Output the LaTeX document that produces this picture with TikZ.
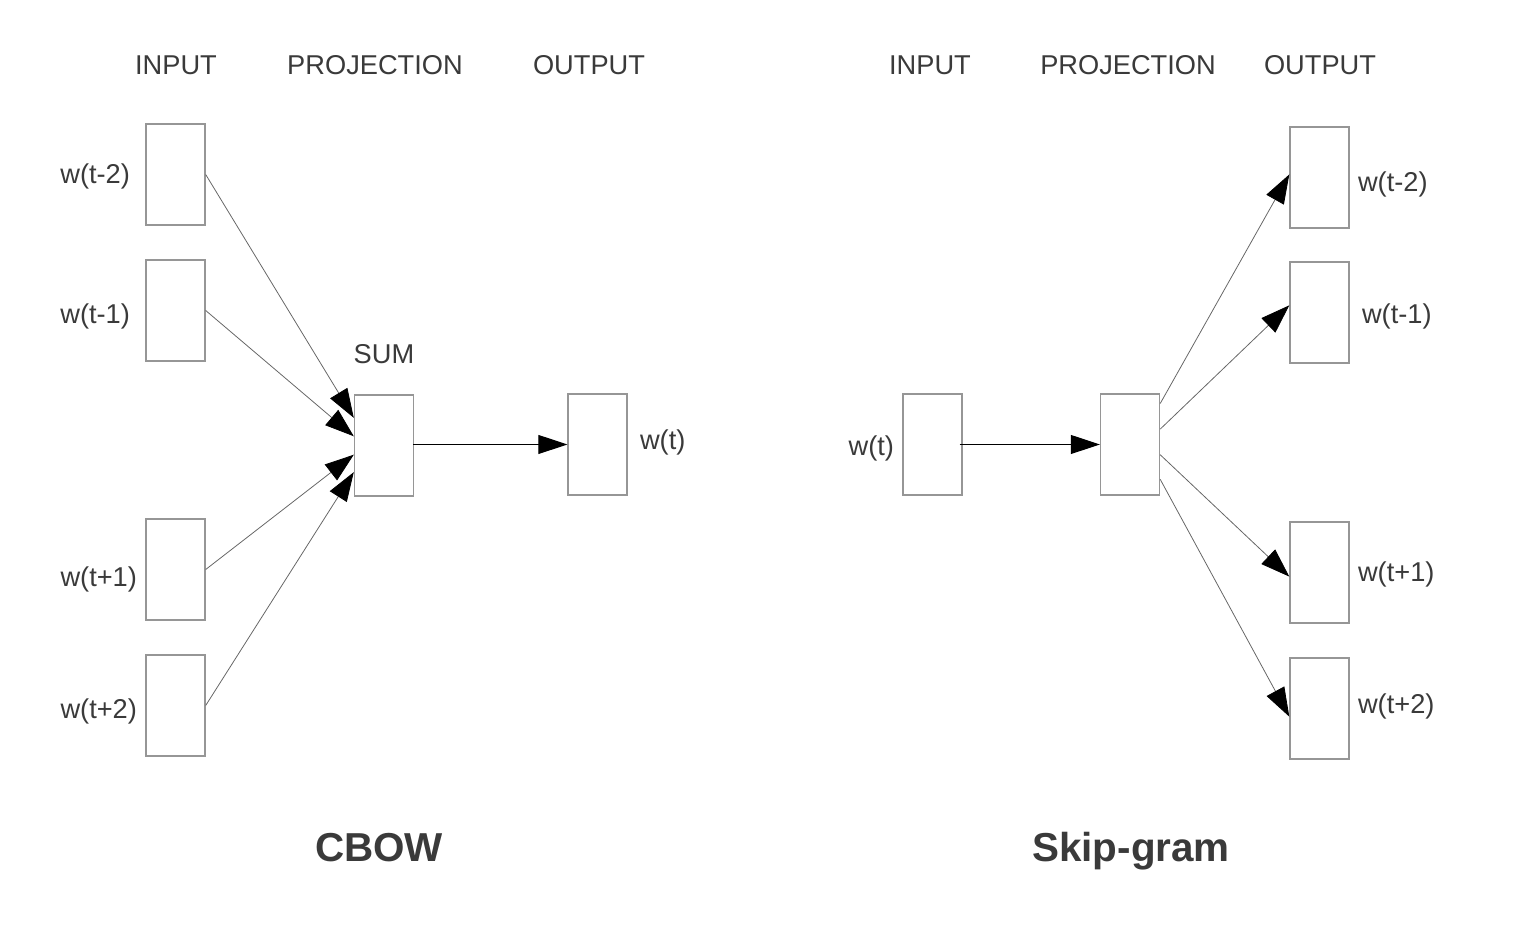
\documentclass[tikz,border=0pt]{standalone}
\usepackage{fontspec}
\setmainfont{Liberation Sans}
\usepackage{tikz}
\usetikzlibrary{arrows.meta}
\usetikzlibrary{positioning}
\usetikzlibrary{calc}
\definecolor{txtgray}{RGB}{58,58,58}
\definecolor{boxgray}{RGB}{150,150,150}
\tikzset{
  wbox/.style={draw=boxgray, line width=0.8pt, minimum width=1.18cm, minimum height=2.02cm, inner sep=0pt},
  lbl/.style={text=txtgray, inner sep=0pt, font=\fontsize{15.5}{18}\selectfont},
  title/.style={text=txtgray, inner sep=0pt, font=\fontsize{23}{27}\selectfont\bfseries},
  thin arrow/.style={draw=black!60, line width=0.45pt, -{Triangle[length=0.58cm,width=0.4cm,color=black]}},
  flat arrow/.style={draw=black, line width=0.6pt, -{Triangle[length=0.58cm,width=0.38cm]}}
}

\begin{document}
\begin{tikzpicture}[x=0.02cm, y=-0.02cm]
\useasboundingbox (0,0) rectangle (1516,932);

% CBOW
\node[lbl] (cin) at (176,65) {INPUT};
\node[lbl] (cproj) at (375,65) {PROJECTION};
\node[lbl] (cout) at (589,65) {OUTPUT};

\node[wbox] (cw1) at (175.5,174.5) {};
\node[wbox] (cw2) at (175.5,310.5) {};
\node[wbox] (cw3) at (175.5,569.5) {};
\node[wbox] (cw4) at (175.5,705.5) {};
\node[lbl, left=0.3cm of cw1, yshift=-0.04cm] (cl1) {w(t-2)};
\node[lbl, left=0.3cm of cw2, yshift=-0.12cm] (cl2) {w(t-1)};
\node[lbl, left=0.16cm of cw3, yshift=-0.2cm] (cl3) {w(t+1)};
\node[lbl, left=0.16cm of cw4, yshift=-0.12cm] (cl4) {w(t+2)};

\node[wbox] (sum) at (384,445.5) {};
\node[lbl] (sumlbl) at (384,354) {SUM};
\node[wbox] (cwt) at (597.5,444.5) {};
\node[lbl, right=0.24cm of cwt, yshift=0.04cm] (cwtlbl) {w(t)};

\draw[thin arrow] (cw1.east) -- ($(sum.north west)!0.23!(sum.south west)$);
\draw[thin arrow] (cw2.east) -- ($(sum.north west)!0.41!(sum.south west)$);
\draw[thin arrow] (cw3.east) -- ($(sum.north west)!0.59!(sum.south west)$);
\draw[thin arrow] (cw4.east) -- ($(sum.north west)!0.76!(sum.south west)$);
\draw[flat arrow] ([xshift=-0.02cm]cwt.west -| sum.east) -- (cwt.west);

\node[title] (cbow) at (379,848) {CBOW};

% Skip-gram
\node[lbl] (sin) at (930,65) {INPUT};
\node[lbl] (sproj) at (1128,65) {PROJECTION};
\node[lbl] (sout) at (1320,65) {OUTPUT};

\node[wbox] (swt) at (932.5,444.5) {};
\node[lbl, left=0.16cm of swt, yshift=-0.08cm] (swtlbl) {w(t)};
\node[wbox] (proj) at (1130,444.5) {};

\node[wbox] (sw1) at (1319.5,177.5) {};
\node[wbox] (sw2) at (1319.5,312.5) {};
\node[wbox] (sw3) at (1319.5,572.5) {};
\node[wbox] (sw4) at (1319.5,708.5) {};
\node[lbl, right=0.16cm of sw1, yshift=-0.14cm] (sl1) {w(t-2)};
\node[lbl, right=0.24cm of sw2, yshift=-0.08cm] (sl2) {w(t-1)};
\node[lbl, right=0.16cm of sw3, yshift=-0.04cm] (sl3) {w(t+1)};
\node[lbl, right=0.16cm of sw4, yshift=0.04cm] (sl4) {w(t+2)};

\draw[flat arrow] ([xshift=-0.06cm]swt.east) -- (proj.west);
\draw[thin arrow] ($(proj.north east)!0.1!(proj.south east)$) -- ($(sw1.north west)!0.47!(sw1.south west)$);
\draw[thin arrow] ($(proj.north east)!0.35!(proj.south east)$) -- ($(sw2.north west)!0.43!(sw2.south west)$);
\draw[thin arrow] ($(proj.north east)!0.6!(proj.south east)$) -- ($(sw3.north west)!0.54!(sw3.south west)$);
\draw[thin arrow] ($(proj.north east)!0.84!(proj.south east)$) -- ($(sw4.north west)!0.58!(sw4.south west)$);

\node[title, yshift=-0.06cm] (skip) at (1131,848) {Skip-gram};
\end{tikzpicture}
\end{document}
